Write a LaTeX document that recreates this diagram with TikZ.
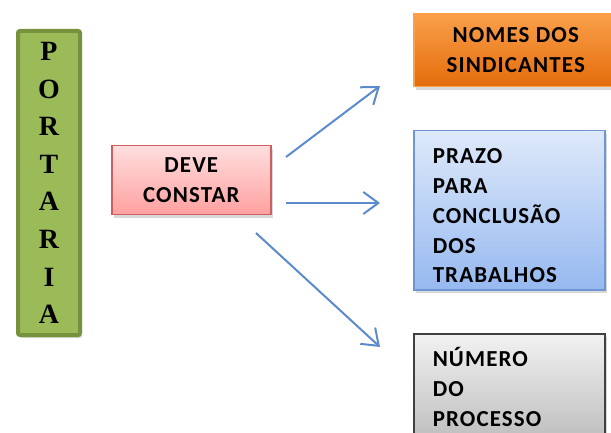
\documentclass[tikz,border=0pt]{standalone}
\usepackage{fontspec}
\setmainfont[LetterSpace=5]{Carlito}
\newfontfamily\portariafont{Liberation Serif}
\usetikzlibrary{arrows.meta,shadows}

\definecolor{portariafill}{RGB}{155,187,89}
\definecolor{portarialine}{RGB}{118,146,60}
\definecolor{devetop}{RGB}{255,222,222}
\definecolor{devebottom}{RGB}{255,160,160}
\definecolor{develine}{RGB}{205,95,95}
\definecolor{nomestop}{RGB}{250,160,75}
\definecolor{nomesbottom}{RGB}{228,108,10}
\definecolor{prazotop}{RGB}{222,233,250}
\definecolor{prazobottom}{RGB}{150,185,240}
\definecolor{prazoline}{RGB}{110,150,210}
\definecolor{numerotop}{RGB}{242,242,242}
\definecolor{numerobottom}{RGB}{190,190,190}
\definecolor{numeroline}{RGB}{64,64,64}
\definecolor{setacolor}{RGB}{91,139,204}

\newlength{\du}
\setlength{\du}{1bp}

\tikzset{
  caixa/.style={draw, line width=1.5\du, inner sep=0pt, anchor=north west,
    font=\fontsize{23}{30}\selectfont\bfseries,
    drop shadow={opacity=0.3, shadow xshift=2\du, shadow yshift=-3\du}},
  seta/.style={draw=setacolor, line width=2\du,
    -{Straight Barb[length=15bp,width=22bp,line width=2bp]}},
}

\begin{document}
\begin{tikzpicture}
\pgftransformyscale{-1.000000}
\clip (0\du,0\du) rectangle (611\du,433\du);
% portaria
\node[caixa, draw=portarialine, fill=portariafill, line width=4\du, rounded corners=2\du,
  minimum width=62\du, minimum height=304\du, align=center,
  font=\portariafont\fontsize{28}{37.7}\selectfont\bfseries] (portaria) at (16\du,29\du)
  {P\\O\\R\\T\\A\\R\\I\\A};
% deve constar
\node[caixa, draw=develine, top color=devetop, bottom color=devebottom,
  minimum width=159\du, minimum height=69\du, align=center] (deve) at (111\du,145\du)
  {DEVE\\CONSTAR};
% nomes dos sindicantes
\node[caixa, draw=nomestop, top color=nomestop, bottom color=nomesbottom,
  minimum width=204\du, minimum height=73\du, align=center] (nomes) at (413\du,13\du)
  {NOMES DOS\\SINDICANTES};
% prazo
\node[caixa, draw=prazoline, top color=prazotop, bottom color=prazobottom,
  minimum width=191\du, minimum height=159\du, text width=153\du, align=left] (prazo) at (413\du,130\du)
  {\rule{0pt}{26\du}PRAZO\\PARA\\CONCLUSÃO\\DOS\\TRABALHOS};
% numero
\node[caixa, draw=numeroline, top color=numerotop, bottom color=numerobottom,
  minimum width=191\du, minimum height=106\du, text width=153\du, align=left] (numero) at (413\du,333\du)
  {NÚMERO\\DO\\PROCESSO};
% setas
\coordinate (s1) at (286\du,157\du);
\coordinate (e1) at (380\du,86\du);
\coordinate (s2) at (286\du,203\du);
\coordinate (e2) at (380\du,203\du);
\coordinate (s3) at (256\du,233\du);
\coordinate (e3) at (380\du,347\du);
\draw[seta] (s1)--(e1);
\draw[seta] (s2)--(e2);
\draw[seta] (s3)--(e3);
\end{tikzpicture}
\end{document}
